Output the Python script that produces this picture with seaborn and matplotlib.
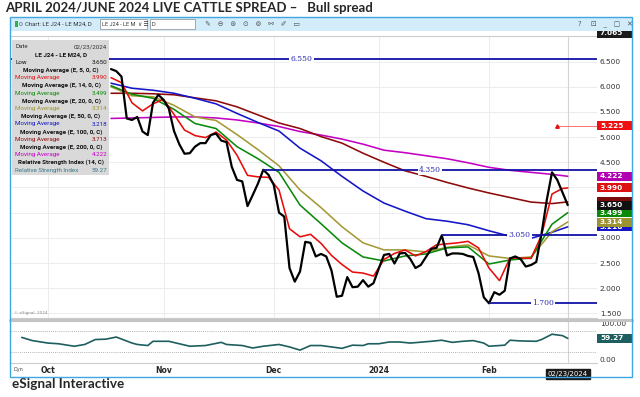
import numpy as np
import pandas as pd
import matplotlib
matplotlib.use('Agg')
import matplotlib.pyplot as plt
import matplotlib.transforms as mtransforms
from matplotlib.patches import Rectangle
from matplotlib.lines import Line2D
import seaborn as sns

sns.set_style('white')
plt.rcParams['font.family'] = ['DejaVu Sans']

# ---- data ----
holidays = ['2023-11-23', '2023-12-25', '2024-01-01', '2024-01-15', '2024-02-19']
days = pd.bdate_range('2023-09-20', '2024-02-23').difference(pd.to_datetime(holidays))

month_labels = ['Oct', 'Nov', 'Dec', '2024', 'Feb']
month_firsts = ['2023-10-02', '2023-11-01', '2023-12-01', '2024-01-02', '2024-02-01']

# daily close of LE J24 - LE M24, from 2023-10-18
close_start = '2023-10-18'
spread_close = [6.35, 6.31, 6.20, 5.37, 5.34, 5.40, 5.11, 5.04, 5.68, 5.84,
                5.74, 5.57, 5.12, 4.86, 4.67, 4.68, 4.81, 4.88, 4.88, 5.04,
                5.07, 4.93, 4.90, 4.41, 4.15, 4.12, 3.63, 3.85, 4.08, 4.35,
                4.25, 4.05, 3.50, 3.42, 2.40, 2.13, 2.33, 2.92, 2.90, 2.63,
                2.68, 2.63, 2.35, 1.83, 1.85, 2.22, 2.02, 2.03, 2.16, 2.03,
                2.10, 2.39, 2.66, 2.68, 2.49, 2.69, 2.70, 2.58, 2.40, 2.46,
                2.62, 2.78, 2.80, 3.05, 2.65, 2.69, 2.69, 2.68, 2.64, 2.62,
                2.30, 1.82, 1.70, 1.92, 1.87, 1.95, 2.59, 2.63, 2.58, 2.43,
                2.46, 2.52, 3.08, 3.75, 4.30, 4.15, 3.90, 3.650]

fast_dates = ['2023-10-18', '2023-10-20', '2023-10-24', '2023-10-26', '2023-10-30',
              '2023-11-01', '2023-11-03', '2023-11-07', '2023-11-09', '2023-11-13',
              '2023-11-15', '2023-11-17', '2023-11-21', '2023-11-24', '2023-11-28',
              '2023-11-30', '2023-12-04', '2023-12-06', '2023-12-08', '2023-12-12',
              '2023-12-14', '2023-12-18', '2023-12-20', '2023-12-22', '2023-12-27',
              '2023-12-29', '2024-01-03', '2024-01-05', '2024-01-09', '2024-01-11',
              '2024-01-16', '2024-01-18', '2024-01-22', '2024-01-24', '2024-01-26',
              '2024-01-30', '2024-02-01', '2024-02-05', '2024-02-07', '2024-02-09',
              '2024-02-13', '2024-02-15', '2024-02-20', '2024-02-22', '2024-02-23']
ema5 = [6.18, 6.08, 5.68, 5.52, 5.66, 5.75, 5.45, 5.14, 5.03, 4.99,
        5.10, 4.94, 4.64, 4.24, 4.21, 4.20, 3.95, 3.18, 3.02, 3.07,
        2.89, 2.65, 2.47, 2.32, 2.30, 2.24, 2.57, 2.69, 2.76, 2.64,
        2.73, 2.86, 2.88, 2.90, 2.93, 2.80, 2.40, 2.15, 2.60, 2.60,
        2.59, 3.05, 3.87, 3.98, 3.990]

slow_dates = ['2023-10-18', '2023-10-24', '2023-10-30', '2023-11-03', '2023-11-09',
              '2023-11-15', '2023-11-21', '2023-11-28', '2023-12-04', '2023-12-08',
              '2023-12-14', '2023-12-20', '2023-12-27', '2024-01-03', '2024-01-09',
              '2024-01-16', '2024-01-22', '2024-01-26', '2024-02-01', '2024-02-07',
              '2024-02-13', '2024-02-20', '2024-02-23']
ema14 = [6.02, 5.85, 5.77, 5.55, 5.27, 5.17, 4.81, 4.57, 4.30, 3.65, 3.28, 2.90,
         2.62, 2.54, 2.64, 2.68, 2.80, 2.82, 2.48, 2.56, 2.60, 3.27, 3.499]
ema20 = [6.00, 5.82, 5.80, 5.63, 5.40, 5.33, 5.05, 4.75, 4.43, 3.95, 3.60, 3.22,
         2.90, 2.76, 2.76, 2.72, 2.81, 2.86, 2.64, 2.59, 2.62, 3.12, 3.314]
ema50 = [6.07, 5.97, 5.93, 5.87, 5.77, 5.66, 5.47, 5.29, 5.12, 4.78, 4.53, 4.22,
         3.93, 3.69, 3.53, 3.38, 3.33, 3.26, 3.14, 3.03, 2.99, 3.11, 3.218]
ema100 = [5.87, 5.87, 5.86, 5.84, 5.78, 5.72, 5.60, 5.44, 5.28, 5.17, 5.01, 4.88,
          4.68, 4.50, 4.33, 4.22, 4.10, 3.99, 3.89, 3.80, 3.71, 3.68, 3.713]
ema200 = [5.37, 5.38, 5.39, 5.40, 5.40, 5.38, 5.34, 5.28, 5.21, 5.11, 5.04, 4.96,
          4.86, 4.74, 4.69, 4.63, 4.57, 4.49, 4.40, 4.34, 4.30, 4.26, 4.222]

rsi_dates = ['2023-09-25', '2023-09-27', '2023-10-02', '2023-10-04', '2023-10-09',
             '2023-10-11', '2023-10-13', '2023-10-17', '2023-10-19', '2023-10-24',
             '2023-10-25', '2023-10-27', '2023-10-30', '2023-11-02', '2023-11-06',
             '2023-11-08', '2023-11-13', '2023-11-16', '2023-11-17', '2023-11-22',
             '2023-11-27', '2023-11-29', '2023-12-04', '2023-12-06', '2023-12-08',
             '2023-12-12', '2023-12-14', '2023-12-18', '2023-12-20', '2023-12-22',
             '2023-12-27', '2023-12-28', '2024-01-02', '2024-01-04', '2024-01-08',
             '2024-01-10', '2024-01-17', '2024-01-19', '2024-01-23', '2024-01-25',
             '2024-01-29', '2024-01-31', '2024-02-01', '2024-02-06', '2024-02-07',
             '2024-02-09', '2024-02-14', '2024-02-15', '2024-02-20', '2024-02-22',
             '2024-02-23']
rsi14 = [62, 53, 46, 44, 37, 42, 56, 57, 63, 46, 42, 39, 51, 51, 44, 37, 39, 48,
         42, 39, 32, 37, 42, 35, 26, 39, 39, 35, 31, 40, 39, 44, 44, 49, 49, 46,
         51, 54, 48, 51, 53, 46, 37, 40, 54, 52, 51, 56, 71, 67, 59.27]

# support / resistance lines: level, start date
levels = [6.55, 4.35, 3.05, 1.70]
level_starts = ['2023-09-20', '2023-11-29', '2024-01-19', '2024-02-01']
alert_level = 5.225
alert_start = '2024-02-21'
chart_high = 7.065

pos = {d: i for i, d in enumerate(days)}
def sess(dates):
    return [pos[pd.Timestamp(d)] for d in dates]

# ---- figure ----
W, H = 640, 397
def fx(x):
    return x / W
def fy(y):
    return 1 - y / H

fig = plt.figure(figsize=(W / 100, H / 100), dpi=100)
fig.patch.set_facecolor('white')

ax = fig.add_axes([fx(11), fy(318), (597 - 11) / W, (318 - 36) / H])
ax2 = fig.add_axes([fx(11), fy(363), (597 - 11) / W, (363 - 321) / H])

xlim = (0.95, 112.57)
ax.set_xlim(*xlim)
ax2.set_xlim(*xlim)
ax.set_ylim(1.408, 7.007)
ax2.set_ylim(-10.5, 108.5)

c5, c14, c20, c50, c100, c200 = '#e80c0c', '#0a8a0a', '#a39a35', '#1414c8', '#8e0a0a', '#c400c4'
ma_series = [
    (slow_dates, ema200, c200),
    (slow_dates, ema100, c100),
    (slow_dates, ema50, c50),
    (slow_dates, ema20, c20),
    (slow_dates, ema14, c14),
    (fast_dates, ema5, c5),
]
for d, v, c in ma_series:
    sns.lineplot(x=sess(d), y=v, ax=ax, color=c, linewidth=1.15, zorder=4)

close_dates = days[days >= pd.Timestamp(close_start)]
sns.lineplot(x=sess(close_dates), y=spread_close, ax=ax, color='black',
             linewidth=1.6, zorder=6)

# support / resistance lines with labels
for lvl, start in zip(levels, level_starts):
    x0 = pos[pd.Timestamp(start)]
    ax.hlines(lvl, x0, xlim[1], color='#1212a8', linewidth=1.3, zorder=7)
    ax.text((x0 + xlim[1]) / 2, lvl, f'{lvl:.3f}', ha='center', va='center',
            fontsize=5.5, color='#2a2ab0', family='DejaVu Serif', zorder=8,
            bbox=dict(boxstyle='square,pad=0.15', fc='white', ec='none'))

# alert line
xa = pos[pd.Timestamp(alert_start)]
ax.hlines(alert_level, xa, xlim[1], color='#ff5a5a', linewidth=0.6, zorder=7)
ax.plot([xa], [alert_level], marker='^', color='#e01010', markersize=2.5, zorder=8)

# grid / ticks
month_x = sess(month_firsts)
last_x = pos[days[-1]]
for a in (ax, ax2):
    a.set_xticks(month_x)
    for s in ['left', 'right']:
        a.spines[s].set_visible(False)
    a.spines['top'].set_color('#cccccc')
    a.spines['bottom'].set_color('#cccccc')
    a.axvline(last_x, color='#d4d4d4', linewidth=0.8, zorder=1)
ax.grid(True, color='#ececec', linewidth=0.7)
ax.set_axisbelow(True)
ax.set_xticklabels([])
ax.tick_params(length=0)

yt = np.arange(1.5, 7.01, 0.5)
ax.set_yticks(yt)
ax.set_yticklabels(['' if v in (3.5, 4.0, 7.0) else f'{v:.3f}' for v in yt])
ax.yaxis.tick_right()
ax.tick_params(axis='y', labelsize=5.3, pad=2, labelcolor='#333333')
ax.set_xlabel('')
ax.set_ylabel('')

sns.lineplot(x=sess(rsi_dates), y=rsi14, ax=ax2, color='#1e5e5e', linewidth=1.2, zorder=4)
for lvl in (80, 20):
    ax2.axhline(lvl, color='#9a9a9a', linewidth=0.6, linestyle=(0, (1, 1.5)))
ax2.set_yticks([0, 100])
ax2.set_yticklabels(['0.00', '100.00'])
ax2.yaxis.tick_right()
ax2.tick_params(length=0)
ax2.tick_params(axis='y', labelsize=5.3, pad=2, labelcolor='#333333')
ax2.set_xticklabels(month_labels, fontsize=5.5, fontweight='bold')
ax2.tick_params(axis='x', pad=2.5)
ax2.set_xlabel('')
ax2.set_ylabel('')

# right-hand value tags, later ones drawn on top
tag_z = [20]
def tag(a, value, text, bg, px_per_unit, fg='white'):
    trans = mtransforms.blended_transform_factory(a.transAxes, a.transData)
    h = 9 / px_per_unit
    z = tag_z[0]
    tag_z[0] += 2
    a.add_patch(Rectangle((1.0, value - h / 2), 35 / 586, h, transform=trans,
                          fc=bg, ec='none', clip_on=False, zorder=z))
    if text:
        a.text(1.0 + 3 / 586, value, text, transform=trans, ha='left', va='center',
               fontsize=5.3, fontweight='bold', color=fg, clip_on=False, zorder=z + 1)

ppu = 50.37
tag(ax, chart_high, f'{chart_high:.3f}', '#1a1a1a', ppu)
tag(ax, alert_level, f'{alert_level:.3f}', '#ee1111', ppu)
tag(ax, ema100[-1], '', '#7a0c0c', ppu)
tag(ax, ema50[-1], f'{ema50[-1]:.3f}', c50, ppu)
tag(ax, ema20[-1], f'{ema20[-1]:.3f}', '#9c9431', ppu)
tag(ax, ema14[-1], f'{ema14[-1]:.3f}', c14, ppu)
tag(ax, spread_close[-1], f'{spread_close[-1]:.3f}', '#111111', ppu)
tag(ax, ema5[-1], f'{ema5[-1]:.3f}', '#dd1111', ppu)
tag(ax, ema200[-1], f'{ema200[-1]:.3f}', '#b000b0', ppu)
tag(ax2, rsi14[-1], f'{rsi14[-1]:.2f}', '#1e5e5e', 0.353)

ax2.annotate('02/23/2024', xy=(last_x, 0), xycoords=('data', 'axes fraction'),
             xytext=(0, -8), textcoords='offset points', ha='center', va='center',
             fontsize=5, color='white', annotation_clip=False,
             bbox=dict(boxstyle='square,pad=0.3', fc='#1a1a1a', ec='#1a1a1a'))

# ---- window chrome ----
fig.add_artist(Rectangle((fx(10), fy(30.5)), (632 - 10) / W, 13 / H,
                         transform=fig.transFigure, fc='#d3ecfa', ec='none', zorder=30))
fig.add_artist(Rectangle((fx(10), fy(377)), (632 - 10) / W, (377 - 17) / H,
                         transform=fig.transFigure, fill=False, ec='#3ea6e2', lw=1.0, zorder=31))
fig.add_artist(Line2D([fx(10), fx(632)], [fy(319.5), fy(319.5)], transform=fig.transFigure,
                      color='#c4c4c4', lw=2.2, zorder=30))
fig.add_artist(Rectangle((fx(15), fy(27)), 3 / W, 6 / H, transform=fig.transFigure,
                         fc='#2db34a', ec='none', zorder=32))
fig.text(fx(19), fy(24), '0', fontsize=4.5, color='#555555', va='center', zorder=32)
fig.text(fx(25), fy(24), 'Chart: LE J24 - LE M24, D', fontsize=4.3, color='#333333',
         va='center', family='Roboto', zorder=32)
for x0, x1, t in [(100, 147, 'LE J24 - LE M  ∨ ☰'), (150, 195, 'D')]:
    fig.add_artist(Rectangle((fx(x0), fy(28.5)), (x1 - x0) / W, 9 / H, transform=fig.transFigure,
                             fc='white', ec='#8a8a8a', lw=0.5, zorder=32))
    fig.text(fx(x0 + 2), fy(24), t, fontsize=4, color='#333333', va='center',
             family=['Roboto', 'DejaVu Sans'], zorder=33)
fig.text(fx(205), fy(24), '✎   ⊖   ⊛   ⊙   ⊚   ⚯   ✐   ▭', fontsize=5, color='#555555',
         va='center', zorder=33)
fig.text(fx(578), fy(24), '?    ⊡   _   ▢   ✕', fontsize=5, color='#555555', va='center', zorder=33)

# legend panel
fig.add_artist(Rectangle((fx(12), fy(175)), (109 - 12) / W, (175 - 40) / H,
                         transform=fig.transFigure, fc='#d9d9d9', ec='none', zorder=35))
rows = [
    ('Date', '02/23/2024', '#333333'),
    ('LE J24 - LE M24, D', None, None),
    ('Low', '3.650', '#111111'),
    ('Moving Average (E, 5, 0, C)', None, None),
    ('Moving Average', '3.990', '#e01010'),
    ('Moving Average (E, 14, 0, C)', None, None),
    ('Moving Average', '3.499', '#0a8a0a'),
    ('Moving Average (E, 20, 0, C)', None, None),
    ('Moving Average', '3.314', '#9c9431'),
    ('Moving Average (E, 50, 0, C)', None, None),
    ('Moving Average', '3.218', '#1414c8'),
    ('Moving Average (E, 100, 0, C)', None, None),
    ('Moving Average', '3.713', '#8e0a0a'),
    ('Moving Average (E, 200, 0, C)', None, None),
    ('Moving Average', '4.222', '#c400c4'),
    ('Relative Strength Index (14, C)', None, None),
    ('Relative Strength Index', '59.27', '#3a7a8a'),
]
for i, (left, right, col) in enumerate(rows):
    y = 47 + i * 7.7
    if right is None:
        fig.text(fx(61), fy(y), left, ha='center', va='center', fontsize=4.5,
                 fontweight='bold', color='#111111', family='Roboto', zorder=36)
    else:
        fig.text(fx(15), fy(y), left, ha='left', va='center', fontsize=4.5,
                 color=col, family='Roboto', zorder=36)
        fig.text(fx(107), fy(y), right, ha='right', va='center', fontsize=4.5,
                 color=col, family='Roboto', zorder=36)

fig.text(fx(14), fy(313), '© eSignal, 2024', fontsize=3, color='#888888', va='center')
fig.text(fx(13), fy(369), 'Dyn', fontsize=3.5, color='#444444', va='center')

# titles
fig.text(fx(5), fy(8), 'APRIL 2024/JUNE 2024 LIVE CATTLE SPREAD –   Bull spread',
         fontsize=9.5, fontweight='bold', family='Lato', va='center')
fig.text(fx(12), fy(384), 'eSignal Interactive', fontsize=9.7, fontweight='bold',
         family='Lato', va='center')

fig.savefig('out.png', dpi=100)
